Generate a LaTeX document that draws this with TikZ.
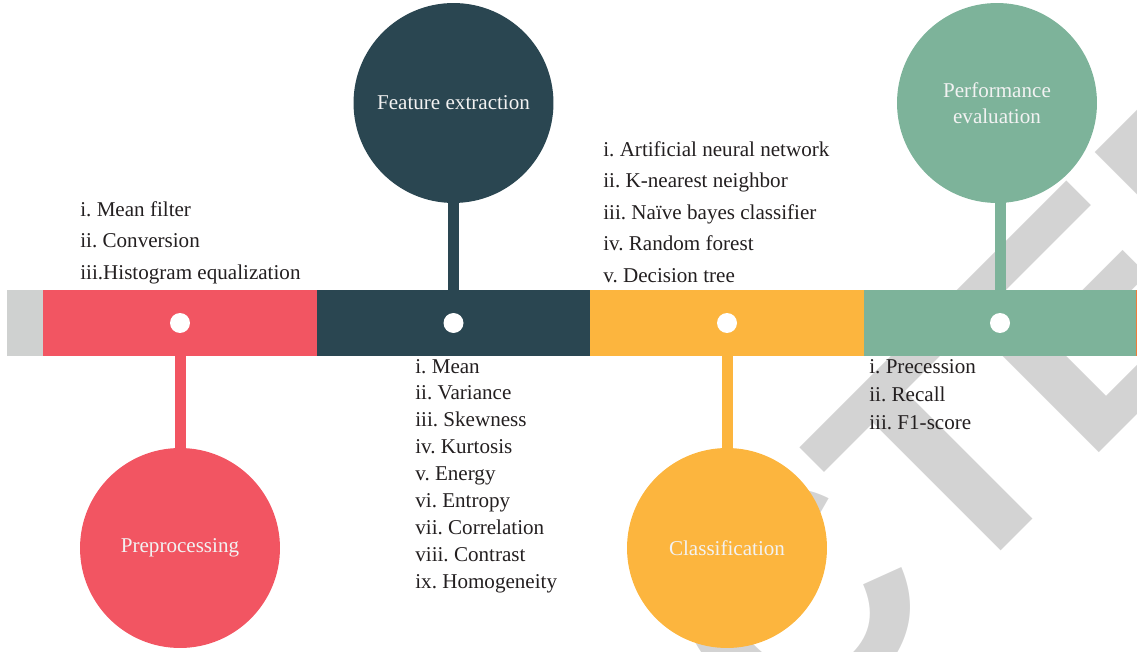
\documentclass[tikz,border=0pt]{standalone}
\usepackage{fontspec}
\setmainfont{Liberation Serif}
\newfontfamily\wmfont{Liberation Sans}

\definecolor{prered}{HTML}{F25562}
\definecolor{featblue}{HTML}{2A4651}
\definecolor{clsorange}{HTML}{FCB53E}
\definecolor{perfgreen}{HTML}{7DB39A}
\definecolor{stubgray}{HTML}{CFD1D0}
\definecolor{wmgray}{HTML}{D3D3D3}
\definecolor{txtgray}{HTML}{231F20}
\definecolor{nextorange}{HTML}{EE7B3A}

\tikzset{
  seg/.style={rectangle,inner sep=0,outer sep=0,minimum height=1.32cm},
  bubble/.style={circle,inner sep=0,outer sep=0,minimum size=4cm,text=white!95!black,
    font=\fontsize{12}{14.8}\selectfont,align=center},
  dot/.style={circle,fill=white,inner sep=0,minimum size=0.4cm},
  stem/.style={line width=0.22cm,shorten <=-1pt,shorten >=-1pt},
  item/.style={anchor=base west,inner sep=0,text=txtgray,font=\fontsize{12}{14}\selectfont\frenchspacing}
}

\begin{document}
\begin{tikzpicture}[x=0.02cm,y=-0.02cm]
  \useasboundingbox (0,0) rectangle (1137,652);
  %watermark
	\node[anchor=base west,rotate=45,inner sep=0,text=wmgray,
	  font=\wmfont\bfseries\fontsize{178}{178}\selectfont] (wm) at (28,1524) {RETRACTED};

  %tidslinje
	\node[seg,fill=stubgray,minimum width=0.72cm] (stub) at (25,323) {};
	\node[seg,fill=prered,minimum width=5.48cm] (segpre) at (180,323) {};
	\node[seg,fill=featblue,minimum width=5.46cm] (segfeat) at (453.5,323) {};
	\node[seg,fill=clsorange,minimum width=5.48cm] (segcls) at (727,323) {};
	\node[seg,fill=perfgreen,minimum width=5.44cm] (segperf) at (1000,323) {};
	\node[seg,fill=nextorange,minimum width=0.03cm] (segnext) at (1136.8,323) {};

  %cirkler
	\node[bubble,fill=prered] (pre) at (180,548) {Preprocessing};
	\node[bubble,fill=featblue] (feat) at (453.5,103) {Feature extraction};
	\node[bubble,fill=clsorange] (cls) at (727,548) {Classification};
	\node[bubble,fill=perfgreen] (perf) at (997,103) {Performance\\evaluation};

  %stilke
	\draw[stem,prered] (segpre.south) -- (pre.north);
	\draw[stem,featblue] (segfeat.north) -- (feat.south);
	\draw[stem,clsorange] (segcls.south) -- (cls.north);
	\draw[stem,perfgreen] (segperf.north) -- (perf.south -| segperf.north);

  %prikker
	\node[dot] (dotpre) at (segpre.center) {};
	\node[dot] (dotfeat) at (segfeat.center) {};
	\node[dot] (dotcls) at (segcls.center) {};
	\node[dot] (dotperf) at (segperf.center) {};

  %lister
	\foreach \t [count=\i] in {i. Mean filter,ii. Conversion,iii.Histogram equalization}
	  \node[item] (prel\i) at (80,{216+31.5*(\i-1)}) {\t};
	\foreach \t [count=\i] in {i. Mean,ii. Variance,iii. Skewness,iv. Kurtosis,v. Energy,
	    vi. Entropy,vii. Correlation,viii. Contrast,ix. Homogeneity}
	  \node[item] (featl\i) at (415,{373+26.9*(\i-1)}) {\t};
	\foreach \t [count=\i] in {i. Artificial neural network,ii. K-nearest neighbor,
	    iii. Naïve bayes classifier,iv. Random forest,v. Decision tree}
	  \node[item] (clsl\i) at (603,{156+31.5*(\i-1)}) {\t};
	\foreach \t [count=\i] in {i. Precession,ii. Recall,iii. F1-score}
	  \node[item] (perfl\i) at (869,{373+28*(\i-1)}) {\t};
\end{tikzpicture}
\end{document}
